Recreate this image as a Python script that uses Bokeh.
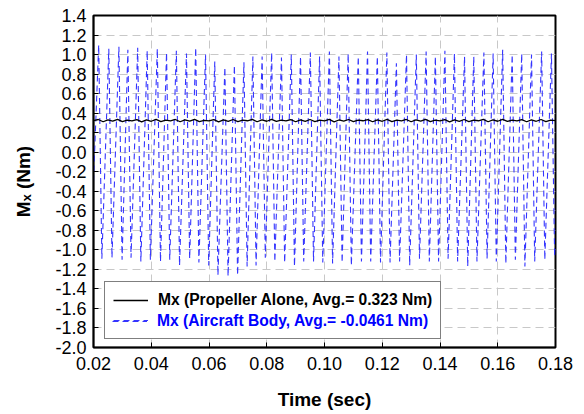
import numpy as np
from bokeh.plotting import figure
from bokeh.models import (Range1d, FixedTicker, PrintfTickFormatter, Legend,
                          LegendItem)
from bokeh.embed import file_html
from bokeh.resources import INLINE

# ---------------- data ----------------
X_TICKS = [0.02, 0.04, 0.06, 0.08, 0.10, 0.12, 0.14, 0.16, 0.18]
Y_TICKS = [-2.0, -1.8, -1.6, -1.4, -1.2, -1.0, -0.8, -0.6, -0.4, -0.2, 0.0,
           0.2, 0.4, 0.6, 0.8, 1.0, 1.2, 1.4]

# Aircraft body: times and values of each peak / trough of the oscillation
peak_t = [0.0218, 0.0253, 0.0288, 0.0319, 0.0353, 0.0386, 0.0421, 0.0453,
          0.0487, 0.0522, 0.0554, 0.0588, 0.0620, 0.0655, 0.0688, 0.0721,
          0.0752, 0.0784, 0.0817, 0.0851, 0.0885, 0.0917, 0.0951, 0.0983,
          0.1017, 0.1050, 0.1082, 0.1117, 0.1149, 0.1183, 0.1216, 0.1249,
          0.1284, 0.1318, 0.1352, 0.1384, 0.1417, 0.1450, 0.1485, 0.1517,
          0.1552, 0.1584, 0.1617, 0.1650, 0.1683, 0.1717, 0.1752, 0.1786]
peak_v = [1.10, 1.06, 1.08, 1.05, 1.07, 1.04, 1.06, 1.02, 1.04, 1.01, 1.07, 1.00,
          0.93, 0.87, 0.89, 0.92, 0.98, 0.98, 1.02, 0.97, 1.00, 0.98, 1.02, 0.98,
          1.03, 0.98, 1.01, 0.98, 1.03, 0.98, 1.02, 0.91, 1.00, 1.00, 1.03, 0.98,
          1.04, 1.01, 0.98, 0.98, 1.02, 1.01, 1.05, 1.00, 1.01, 1.00, 1.03, 1.01]
trough_lag = 0.0011
trough_v = [-1.09, -1.08, -1.10, -1.08, -1.12, -1.10, -1.12, -1.10, -1.16, -1.09,
            -1.13, -1.16, -1.26, -1.27, -1.26, -1.17, -1.16, -1.08, -1.12, -1.13,
            -1.17, -1.12, -1.12, -1.13, -1.14, -1.13, -1.16, -1.12, -1.12, -1.13,
            -1.13, -1.12, -1.16, -1.09, -1.12, -1.12, -1.09, -1.12, -1.17, -1.12,
            -1.09, -1.12, -1.14, -1.10, -1.17, -1.12, -1.10, -1.07]
body_start = -0.30
body_end = -0.95

# Propeller alone: nearly constant with a small ripple
prop_v = [0.323, 0.335, 0.312, 0.330, 0.318, 0.336, 0.314, 0.328, 0.320, 0.334,
          0.311, 0.331, 0.317, 0.336, 0.313, 0.329, 0.321, 0.335, 0.312, 0.330,
          0.318, 0.337, 0.314, 0.327, 0.320, 0.334, 0.311, 0.332, 0.316, 0.335,
          0.313, 0.329, 0.322, 0.336, 0.312, 0.330, 0.317, 0.336, 0.315, 0.328,
          0.321, 0.334, 0.312, 0.331, 0.316, 0.335, 0.314, 0.329, 0.320, 0.336,
          0.311, 0.330, 0.318, 0.335, 0.313, 0.328, 0.322, 0.334, 0.312, 0.331,
          0.317, 0.336, 0.314, 0.329, 0.320, 0.335, 0.312, 0.330, 0.318, 0.337,
          0.313, 0.328, 0.321, 0.334, 0.311, 0.331, 0.316, 0.335, 0.314, 0.329,
          0.322, 0.336, 0.312, 0.330, 0.317, 0.336, 0.315, 0.328, 0.320, 0.334,
          0.312, 0.331, 0.317, 0.335, 0.313, 0.329, 0.323]

LABEL_PROP = "Mx (Propeller Alone, Avg.= 0.323 Nm)"
LABEL_BODY = "Mx (Aircraft Body, Avg.= -0.0461 Nm)"

# ---------------- build series ----------------
body_t = [0.02]
body_y = [body_start]
for t, pv, tv in zip(peak_t, peak_v, trough_v):
    body_t += [t, t + trough_lag]
    body_y += [pv, tv]
body_t.append(0.18)
body_y.append(body_end)

prop_t = list(np.linspace(0.02, 0.18, len(prop_v)))

FONT = "Liberation Sans"

p = figure(width=584, height=414, output_backend="svg", toolbar_location=None,
           x_range=Range1d(0.02, 0.18), y_range=Range1d(-2.0, 1.4),
           min_border_left=93, min_border_right=29, min_border_top=15,
           min_border_bottom=67, background_fill_color="white",
           border_fill_color="white")

blue = p.line(body_t, body_y, line_color="#3535ff", line_width=1.1,
              line_dash="6 4")
black = p.line(prop_t, prop_v, line_color="black", line_width=1.3)

p.outline_line_color = "black"
p.outline_line_width = 2

for ax in (p.xaxis[0], p.yaxis[0]):
    ax.major_label_text_font = FONT
    ax.major_label_text_font_size = "18px"
    ax.major_label_text_color = "black"
    ax.axis_label_text_font = FONT
    ax.axis_label_text_font_style = "bold"
    ax.axis_label_text_font_size = "19px"
    ax.axis_label_text_color = "black"
    ax.major_tick_in = 5
    ax.major_tick_out = 0
    ax.minor_tick_in = 0
    ax.minor_tick_out = 0
    ax.axis_line_color = "black"
    ax.axis_line_width = 1.5
    ax.major_tick_line_color = "black"

p.xaxis[0].ticker = FixedTicker(ticks=X_TICKS)
p.xaxis[0].formatter = PrintfTickFormatter(format="%.2f")
p.xaxis[0].axis_label = "Time (sec)"
p.xaxis[0].major_label_standoff = 9
p.xaxis[0].axis_label_standoff = 16

p.yaxis[0].ticker = FixedTicker(ticks=Y_TICKS)
p.yaxis[0].formatter = PrintfTickFormatter(format="%.1f")
p.yaxis[0].axis_label = "M\u2093 (Nm)"
p.yaxis[0].major_label_standoff = 7
p.yaxis[0].axis_label_standoff = 18

p.xgrid.ticker = FixedTicker(ticks=X_TICKS)
p.ygrid.ticker = FixedTicker(ticks=Y_TICKS)
for g in (p.xgrid[0], p.ygrid[0]):
    g.grid_line_color = "#c8c8c8"
    g.grid_line_dash = "8 5"
    g.grid_line_width = 1

common = dict(location=(11, 8), padding=8, spacing=0, label_height=20,
              glyph_height=20, glyph_width=35, label_standoff=10, margin=0,
              label_text_font=FONT, label_text_font_style="bold",
              label_text_font_size="15.6px")

leg1 = Legend(items=[LegendItem(label=LABEL_PROP, renderers=[black]),
                     LegendItem(label=" ", renderers=[blue])],
              label_text_color="black", border_line_color="black",
              border_line_width=1, background_fill_color="white",
              background_fill_alpha=1.0, **common)
leg2 = Legend(items=[LegendItem(label=LABEL_BODY, renderers=[blue])],
              label_text_color="#0000ff", border_line_alpha=0.0,
              background_fill_alpha=0.0, **common)
p.add_layout(leg1, "center")
p.add_layout(leg2, "center")

open("out.html", "w").write(file_html(p, INLINE))
